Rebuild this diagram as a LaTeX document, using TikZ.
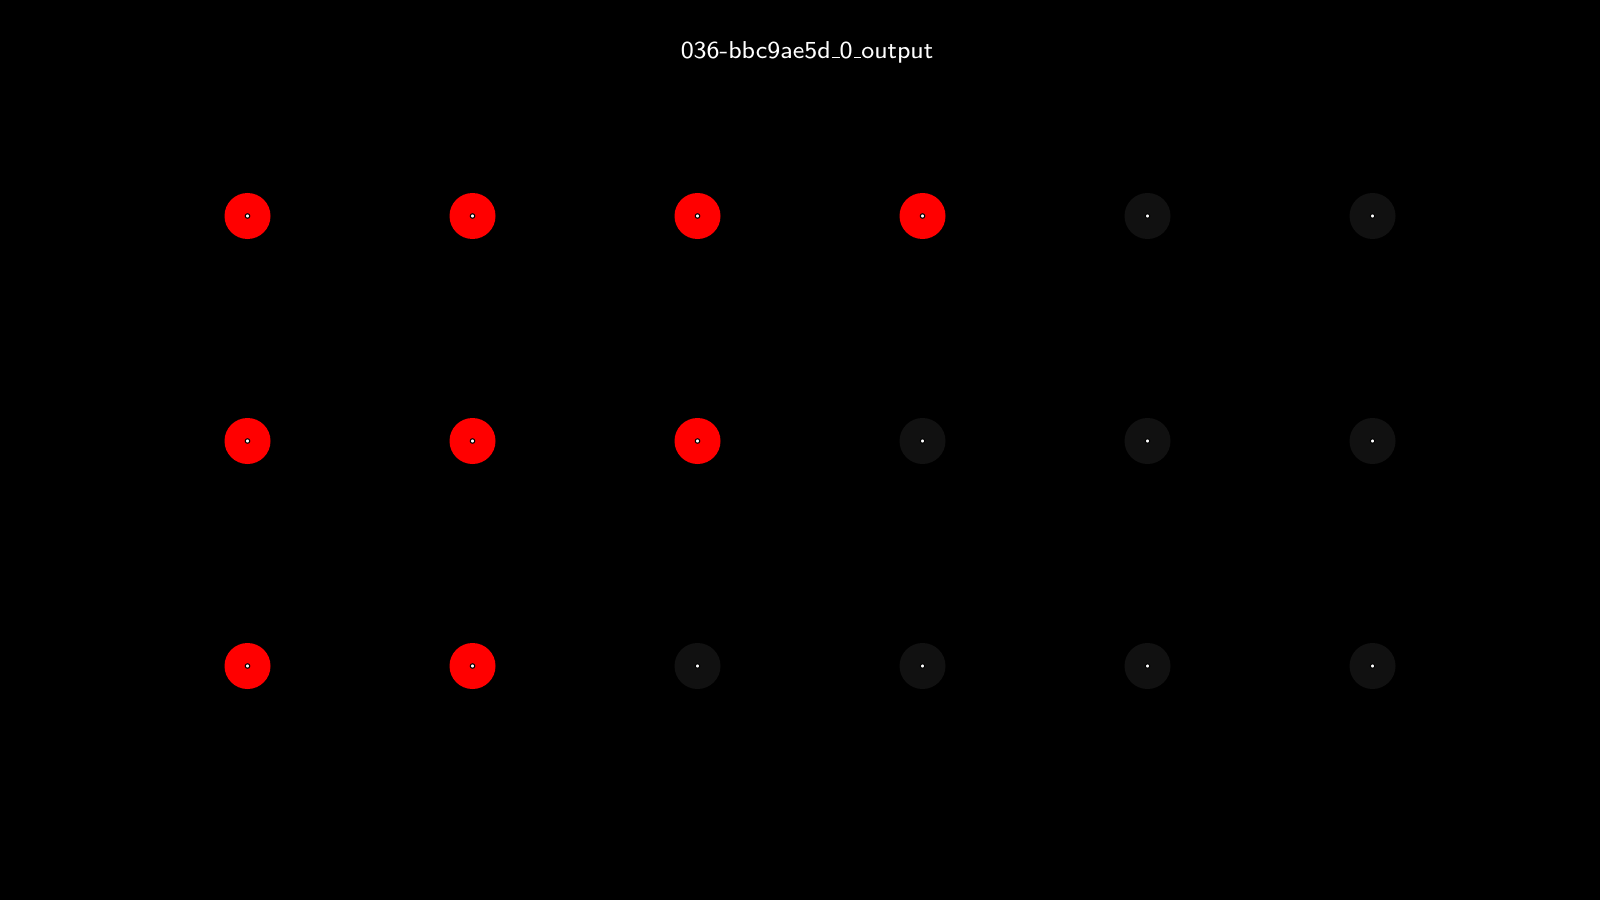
\documentclass[tikz,border=0pt]{standalone}
\definecolor{dark}{HTML}{111111}
\newcommand\usc{\leavevmode\kern.06em\vbox{\hrule width.3em}}
\tikzset{
    cell/.style={circle, minimum size=0.46cm},
    dot/.style={circle, fill=white, draw=black, line width=0.3pt, minimum size=0.045cm},
}
\begin{document}
\begin{tikzpicture}[outer sep=0pt, inner sep=0pt]
    \fill[black] (0,0) rectangle (16,9);
    \useasboundingbox (0,0) rectangle (16,9);
    \def \N {6}
    \def \gap {2.25}
    \foreach [count=\r] \k in {4,3,2}
        \foreach \c in {1,...,\N} {
            \ifnum\c>\k \def\shade{dark}\else\def\shade{red}\fi
            \node[cell, fill=\shade] (p\r\c) at ({2.475+\gap*(\c-1)}, {6.84-\gap*(\r-1)}) {};
            \node[dot] (d\r\c) at (p\r\c.center) {};
        }
\node[white, font=\sffamily\fontsize{6.95}{8}\selectfont] (title) at (8.07,8.48) {036-bbc9ae5d\usc 0\usc output};
\end{tikzpicture}
\end{document}
